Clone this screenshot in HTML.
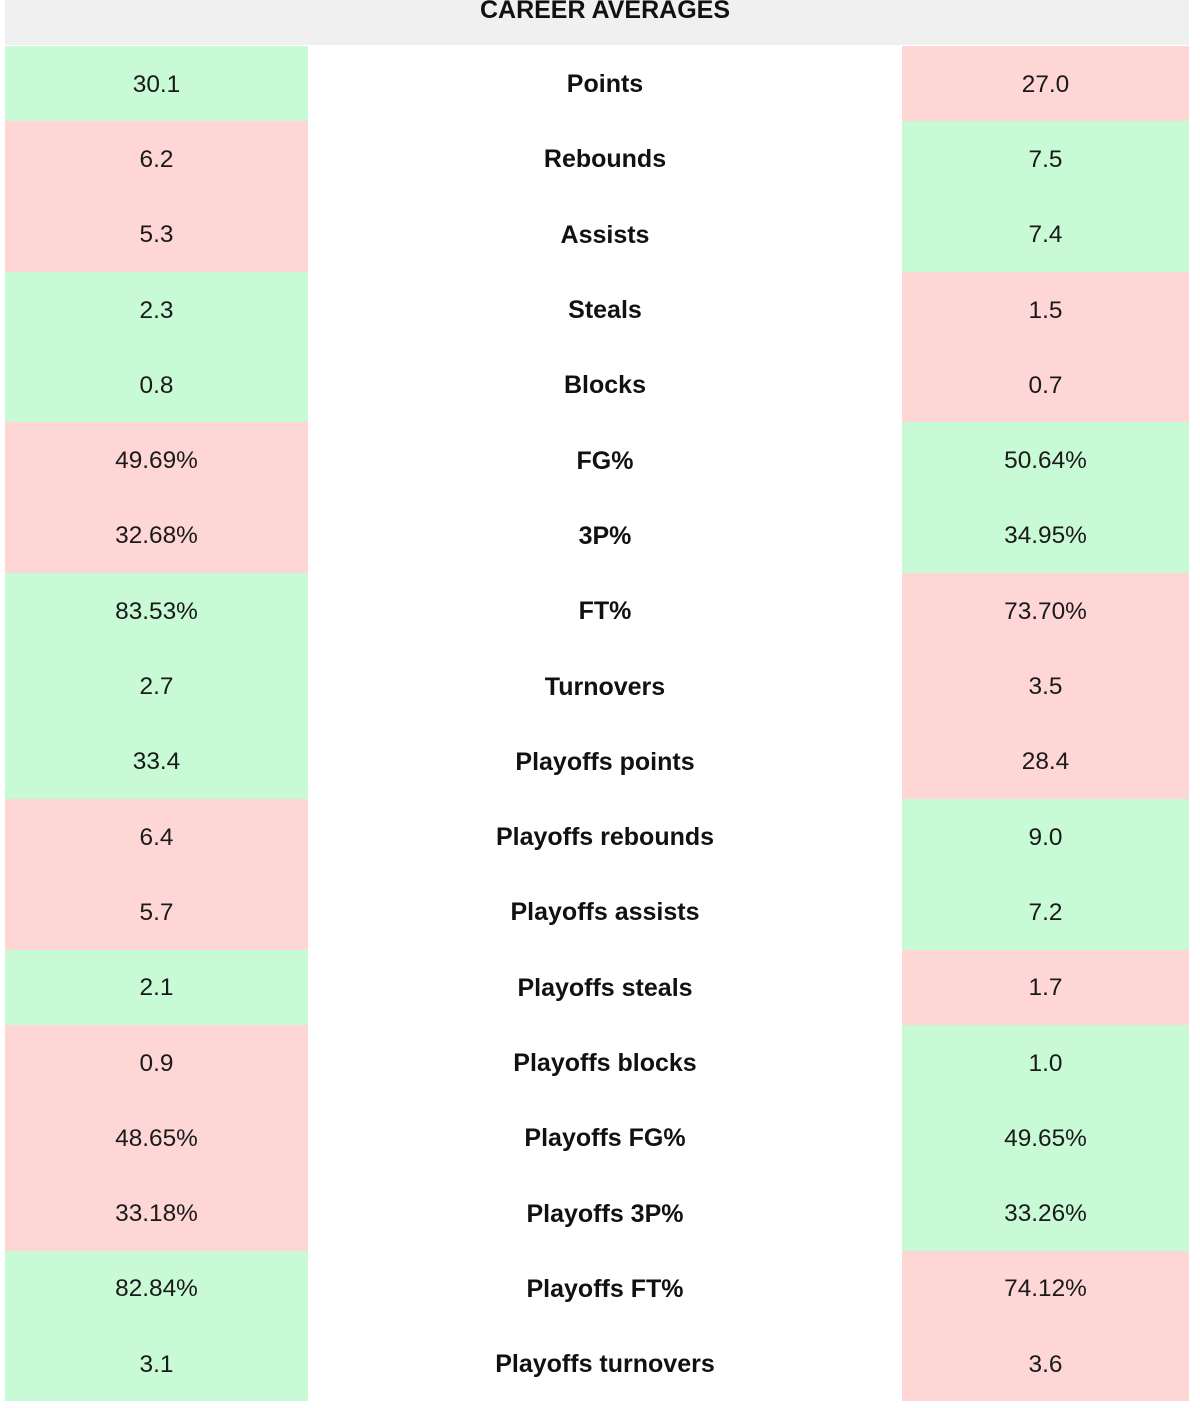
<!DOCTYPE html>
<html>
<head>
<meta charset="utf-8">
<style>
  html, body { margin:0; padding:0; background:#fff; }
  body { width:1200px; height:1408px; position:relative; overflow:hidden;
         font-family:"Liberation Sans", Arial, sans-serif; color:#1a1a1a; }
  .hdr { position:absolute; left:5px; top:0; width:1184px; height:45px; background:#f0f0f0; }
  .title { position:absolute; left:308px; width:594px; top:-2px; line-height:24px;
           text-align:center; font-weight:bold; font-size:25px; color:#111; }
  .grid { position:absolute; left:5px; top:46px; width:1184px;
          display:grid; grid-template-columns:303px 594px 287px;
          grid-template-rows:repeat(18, 75.3px); }
  .grid div { display:flex; align-items:center; justify-content:center; font-size:24.4px; padding-top:2px; box-sizing:border-box; }
  .g { background:#c7fad5; }
  .p { background:#ffd6d6; }
  .m { font-weight:bold; font-size:25px !important; color:#111; background:#fff; }
</style>
</head>
<body>
<div class="hdr"></div>
<div class="title">CAREER AVERAGES</div>
<div class="grid">
  <div class="g">30.1</div><div class="m">Points</div><div class="p">27.0</div>
  <div class="p">6.2</div><div class="m">Rebounds</div><div class="g">7.5</div>
  <div class="p">5.3</div><div class="m">Assists</div><div class="g">7.4</div>
  <div class="g">2.3</div><div class="m">Steals</div><div class="p">1.5</div>
  <div class="g">0.8</div><div class="m">Blocks</div><div class="p">0.7</div>
  <div class="p">49.69%</div><div class="m">FG%</div><div class="g">50.64%</div>
  <div class="p">32.68%</div><div class="m">3P%</div><div class="g">34.95%</div>
  <div class="g">83.53%</div><div class="m">FT%</div><div class="p">73.70%</div>
  <div class="g">2.7</div><div class="m">Turnovers</div><div class="p">3.5</div>
  <div class="g">33.4</div><div class="m">Playoffs points</div><div class="p">28.4</div>
  <div class="p">6.4</div><div class="m">Playoffs rebounds</div><div class="g">9.0</div>
  <div class="p">5.7</div><div class="m">Playoffs assists</div><div class="g">7.2</div>
  <div class="g">2.1</div><div class="m">Playoffs steals</div><div class="p">1.7</div>
  <div class="p">0.9</div><div class="m">Playoffs blocks</div><div class="g">1.0</div>
  <div class="p">48.65%</div><div class="m">Playoffs FG%</div><div class="g">49.65%</div>
  <div class="p">33.18%</div><div class="m">Playoffs 3P%</div><div class="g">33.26%</div>
  <div class="g">82.84%</div><div class="m">Playoffs FT%</div><div class="p">74.12%</div>
  <div class="g">3.1</div><div class="m">Playoffs turnovers</div><div class="p">3.6</div>
</div>
</body>
</html>
